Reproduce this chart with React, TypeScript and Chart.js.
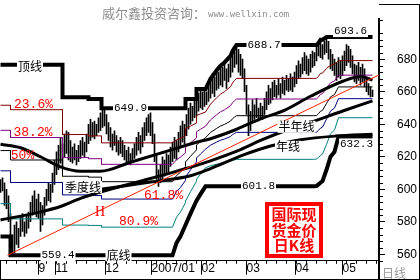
import React, { useEffect, useRef } from "react";
import { Chart, registerables } from "chart.js";

Chart.register(...registerables);

// ---------- data ----------
const highs = [
  606, 607, 604, 600, 596, 585, 572, 578, 580, 576,
  583, 585, 580, 584, 586, 592, 596, 599, 594, 597,
  592, 590, 595, 600, 604, 603, 610, 618, 623, 627,
  632, 628, 634, 636, 635, 630, 626, 628, 624, 627,
  630, 632, 629, 634, 640, 643, 641, 642, 640, 644,
  647, 649, 649.9, 646, 641, 638, 634, 636, 633, 630,
  632, 630, 627, 624, 626, 622, 625, 628, 632, 635,
  633, 638, 641, 644, 646, 647, 641, 634, 622, 612,
  615, 620, 618, 622, 621, 626, 629, 632, 630, 635,
  639, 642, 640, 646, 650, 653, 651, 655, 656, 659,
  661, 660, 662, 660, 664, 668, 671, 669, 673, 672,
  676, 675, 678, 674, 677, 682, 685, 687, 688.7, 686,
  683, 680, 674, 664, 652, 648, 655, 652, 656, 650,
  653, 651, 656, 660, 664, 662, 666, 667, 664, 668,
  665, 669, 667, 670, 668, 671, 669, 672, 676, 679,
  677, 681, 684, 682, 680, 683, 685, 684, 688, 690,
  692, 689, 691, 693.6, 691, 686, 683, 680, 678, 681,
  679, 682, 685, 689, 688, 686, 682, 677, 676, 678,
  675, 677, 674, 669, 665, 663, 661,
];
const lows = [
  598, 599, 590, 588, 580, 562, 559.4, 561, 566, 564,
  571, 574, 571, 573, 576, 580, 584, 586, 583, 582,
  574, 578, 584, 590, 593, 592, 598, 603, 609, 612,
  616, 614, 620, 622, 618, 617, 616, 618, 615, 617,
  619, 621, 620, 623, 628, 630, 632, 631, 633, 635,
  636, 638, 639, 634, 630, 626, 624, 627, 623, 621,
  622, 620, 618, 616, 617, 615, 617, 619, 621, 624,
  622, 626, 630, 633, 635, 633, 628, 617, 606, 601.8,
  604, 606, 608, 610, 609, 614, 617, 619, 618, 623,
  627, 629, 628, 633, 637, 640, 642, 644, 645, 648,
  650, 649, 651, 652, 654, 656, 659, 657, 661, 662,
  664, 663, 667, 662, 666, 669, 672, 675, 677, 672,
  670, 668, 660, 646, 633, 636, 641, 643, 644, 642,
  644, 643, 646, 649, 652, 653, 655, 657, 656, 658,
  656, 659, 658, 661, 660, 661, 660, 663, 665, 668,
  669, 671, 673, 671, 670, 672, 675, 676, 679, 682,
  681, 680, 683, 684, 680, 674, 673, 670, 667, 669,
  668, 670, 673, 676, 678, 675, 671, 666, 665, 667,
  664, 666, 663, 660, 658, 656.8, 657,
];

// 顶线 / 底线 breakpoints (trading-day index)
const levelDays = [
  0, 5, 5, 31, 31, 44, 44, 50.5, 50.5, 86, 88, 90, 92.5, 92.5, 95, 98, 98,
  100, 102.5, 105, 108, 110, 112, 115, 116, 117, 118, 156.5, 158, 159, 160,
  161, 163, 165, 167, 169, 186,
];
const topLine = [
  676.6, 676.6, 676.6, 676.6, 656.6, 656.6, 655.5, 655.5, 649.9, 649.9, 649.9,
  649.9, 649.9, 655.5, 655.5, 655.5, 661.6, 661.6, 661.6, 668, 673, 676, 678,
  682, 685, 687, 688.7, 688.7, 688.7, 690, 692, 692, 693.6, 693.6, 693.6,
  693.6, 693.6,
];
const bottomLine = [
  571, 571, 559.4, 559.4, 559.4, 559.4, 559.4, 559.4, 559.4, 559.4, 567, 571,
  578, 578, 585, 593, 593, 597, 601.8, 601.8, 601.8, 601.8, 601.8, 601.8,
  601.8, 601.8, 601.8, 601.8, 602, 603, 604, 605, 612, 620, 623, 632.3, 632.3,
];

const fibRatios = [0.236, 0.382, 0.5, 0.618, 0.809];

const quarterDays = [0, 10, 20, 30, 40, 50, 65, 80, 97.5, 105, 117.5, 130, 142.5, 155, 171.5, 180, 186];
const quarterMA = [627.7, 625.5, 620, 613.8, 611.1, 611.1, 616.6, 622.2, 628.8, 631.1, 636.6, 643.3, 648.9, 657.2, 666.6, 669.4, 667.2];

const halfDays = [0, 20, 30, 40, 50, 75, 100, 105, 120, 130, 145, 155, 171.5, 186];
const halfMA = [581.1, 586.1, 589.4, 594.4, 598.3, 606.6, 615.5, 617.5, 624.4, 630, 637.2, 641.1, 648.3, 654.4];

const yearDays = [50, 75, 95, 105, 121.5, 135, 150, 167.5, 186];
const yearMA = [600, 604.4, 608.3, 612.7, 621.1, 626.6, 630.5, 632.7, 633.8];

const trendDays = [3.5, 189.5];
const trendValues = [559.4, 670.5];

const monthTickDays = [19, 27.5, 52.5, 75.5, 100.5, 123, 147.5, 171];
const monthLabels = ["9", "11", "12", "2007/01", "02", "03", "04", "05"];
const priceTicks = [560, 580, 600, 620, 640, 660, 680];

// ---------- styles / annotation layout ----------
const fibColors = ["#800000", "#800080", "#000000", "#000080", "#008080"];
const CJK = "'Noto Sans CJK SC', sans-serif";
const MONO = "'Liberation Mono', monospace";

type Note = { text: string; day: number; value: number; color: string; font: string; bg: boolean };
const notes: Note[] = [
  { text: "顶线", day: 14.75, value: 675.4, color: "#000", font: `12px ${CJK}`, bg: true },
  { text: "649.9", day: 65, value: 649.9, color: "#000", font: `11px ${MONO}`, bg: true },
  { text: "688.7", day: 131.75, value: 688.7, color: "#000", font: `11px ${MONO}`, bg: true },
  { text: "693.6", day: 175, value: 697.3, color: "#000", font: `11px ${MONO}`, bg: true },
  { text: "601.8", day: 129, value: 601.8, color: "#000", font: `11px ${MONO}`, bg: true },
  { text: "632.3", day: 178, value: 627.5, color: "#000", font: `11px ${MONO}`, bg: true },
  { text: "559.4", day: 28.75, value: 559.4, color: "#000", font: `11px ${MONO}`, bg: true },
  { text: "底线", day: 59, value: 559.4, color: "#000", font: `12px ${CJK}`, bg: true },
  { text: "季度线", day: 41.25, value: 601.4, color: "#000", font: `12px ${CJK}`, bg: true },
  { text: "半年线", day: 148, value: 638.4, color: "#000", font: `12px ${CJK}`, bg: true },
  { text: "年线", day: 143.75, value: 626.1, color: "#000", font: `12px ${CJK}`, bg: true },
  { text: "23.6%", day: 16.5, value: 651.9, color: "#ff0000", font: `13px ${MONO}`, bg: false },
  { text: "38.2%", day: 16.25, value: 635.1, color: "#ff0000", font: `13px ${MONO}`, bg: false },
  { text: "50%", day: 11, value: 620.5, color: "#ff0000", font: `13px ${MONO}`, bg: false },
  { text: "61.8%", day: 81.5, value: 596.4, color: "#ff0000", font: `13px ${MONO}`, bg: false },
  { text: "80.9%", day: 69, value: 580.1, color: "#ff0000", font: `13px ${MONO}`, bg: false },
  { text: "H", day: 49.75, value: 585.7, color: "#ff0000", font: `14px 'Liberation Serif', serif`, bg: false },
];

const pts = (xs: number[], ys: number[]) => xs.map((x, i) => ({ x, y: ys[i] }));

const decorPlugin = {
  id: "decor",
  beforeDraw(chart: any) {
    const { ctx, width, height } = chart;
    ctx.save();
    ctx.fillStyle = "#fff";
    ctx.fillRect(0, 0, width, height);
    ctx.restore();
  },
  afterDraw(chart: any) {
    const ctx: CanvasRenderingContext2D = chart.ctx;
    const xs = chart.scales.x;
    const ys = chart.scales.y;
    const a = chart.chartArea;
    ctx.save();
    ctx.strokeStyle = "#000";
    ctx.lineWidth = 1;
    // minor price ticks
    for (let v = 556; v <= 704; v += 4) {
      if (v % 20 === 0) continue;
      const py = Math.round(ys.getPixelForValue(v)) + 0.5;
      ctx.beginPath();
      ctx.moveTo(a.right, py);
      ctx.lineTo(a.right + 4, py);
      ctx.stroke();
    }
    // minor day ticks
    for (let d = 2.5; d < 189; d += 5) {
      const px = Math.round(xs.getPixelForValue(d)) + 0.5;
      ctx.beginPath();
      ctx.moveTo(px, a.bottom);
      ctx.lineTo(px, a.bottom + 3);
      ctx.stroke();
    }
    // frame
    ctx.beginPath();
    ctx.moveTo(0, 279.5); ctx.lineTo(420, 279.5);
    ctx.moveTo(419.5, 4); ctx.lineTo(419.5, 280);
    ctx.moveTo(a.right, 4.5); ctx.lineTo(420, 4.5);
    ctx.moveTo(0.5, a.bottom); ctx.lineTo(0.5, 280);
    ctx.stroke();
    ctx.lineWidth = 2;
    ctx.beginPath();
    ctx.moveTo(a.right, a.bottom); ctx.lineTo(a.right, 280);
    ctx.stroke();

    // notes
    ctx.textAlign = "center";
    ctx.textBaseline = "middle";
    for (const n of notes) {
      const px = xs.getPixelForValue(n.day);
      const py = ys.getPixelForValue(n.value);
      ctx.font = n.font;
      if (n.bg) {
        const w = ctx.measureText(n.text).width;
        ctx.fillStyle = "#fff";
        ctx.fillRect(px - w / 2 - 1, py - 6, w + 2, 12);
      }
      ctx.fillStyle = n.color;
      ctx.fillText(n.text, px, py);
    }

    // watermark
    ctx.textAlign = "left";
    ctx.textBaseline = "alphabetic";
    ctx.fillStyle = "#8c8c8c";
    ctx.font = `13px ${CJK}`;
    ctx.fillText("威尔鑫投资咨询：", 102, 18);
    ctx.font = `9px 'DejaVu Sans Mono', monospace`;
    ctx.fillText("www.wellxin.com", 208, 17);

    // 日线
    ctx.font = `12px ${CJK}`;
    ctx.fillStyle = "#9a9a9a";
    ctx.fillText("日线", 382, 278);

    // stamp
    ctx.fillStyle = "#fff";
    ctx.fillRect(265, 202, 58, 56);
    ctx.strokeStyle = "#ff0000";
    ctx.lineWidth = 4;
    ctx.strokeRect(267, 204, 54, 52);
    ctx.fillStyle = "#ff0000";
    ctx.textAlign = "center";
    ctx.textBaseline = "middle";
    ctx.font = `bold 15px ${CJK}`;
    ctx.fillText("国际现", 294, 214.5);
    ctx.fillText("货金价", 294, 230);
    ctx.fillText("日K线", 294, 245.5);
    ctx.restore();
  },
};

export default function App() {
  const ref = useRef<HTMLCanvasElement | null>(null);
  useEffect(() => {
    if (!ref.current) return;
    const datasets: any[] = [
      {
        type: "bar",
        data: highs.map((h, i) => ({ x: i, y: [lows[i], h] })),
        backgroundColor: "#000",
        borderWidth: 0,
        barThickness: 1,
        order: 10,
      },
      ...fibRatios.map((r, k) => ({
        type: "line",
        data: levelDays.map((d, j) => ({ x: d, y: topLine[j] - r * (topLine[j] - bottomLine[j]) })),
        borderColor: fibColors[k],
        borderWidth: 1,
        pointRadius: 0,
        tension: 0,
        order: 6,
      })),
      { type: "line", data: pts(quarterDays, quarterMA), borderColor: "#000", borderWidth: 3, pointRadius: 0, cubicInterpolationMode: "monotone", order: 4 },
      { type: "line", data: pts(halfDays, halfMA), borderColor: "#000", borderWidth: 3, pointRadius: 0, cubicInterpolationMode: "monotone", order: 4 },
      { type: "line", data: pts(yearDays, yearMA), borderColor: "#000", borderWidth: 3, pointRadius: 0, cubicInterpolationMode: "monotone", order: 4 },
      { type: "line", data: pts(levelDays, topLine), borderColor: "#000", borderWidth: 4, pointRadius: 0, tension: 0, order: 2 },
      { type: "line", data: pts(levelDays, bottomLine), borderColor: "#000", borderWidth: 4, pointRadius: 0, tension: 0, order: 2 },
      { type: "line", data: pts(trendDays, trendValues), borderColor: "#ff2200", borderWidth: 1, pointRadius: 0, tension: 0, order: 1 },
    ];
    const chart = new Chart(ref.current, {
      type: "bar",
      data: { datasets },
      options: {
        animation: false,
        responsive: false,
        events: [],
        layout: { padding: 0 },
        plugins: { legend: { display: false }, tooltip: { enabled: false } },
        scales: {
          x: {
            type: "linear",
            min: -0.25,
            max: 189.25,
            offset: false,
            afterBuildTicks: (s: any) => {
              s.ticks = monthTickDays.map((v) => ({ value: v }));
            },
            afterFit: (s: any) => {
              s.height = 15;
            },
            grid: { drawOnChartArea: false, drawTicks: true, tickLength: 14, color: "#000", lineWidth: 1, offset: false },
            border: { display: true, color: "#000", width: 1 },
            ticks: {
              autoSkip: false,
              maxRotation: 0,
              minRotation: 0,
              align: "start",
              padding: -13,
              color: "#000",
              font: { family: "'Liberation Sans', Arial, sans-serif", size: 12 },
              callback: (_v: any, i: number) => monthLabels[i],
            },
          },
          y: {
            type: "linear",
            position: "right",
            min: 556,
            max: 704.6,
            afterBuildTicks: (s: any) => {
              s.ticks = priceTicks.map((v) => ({ value: v }));
            },
            afterFit: (s: any) => {
              s.width = 41;
            },
            grid: { drawOnChartArea: false, drawTicks: true, tickLength: 6, color: "#000", lineWidth: 1 },
            border: { display: true, color: "#000", width: 2 },
            ticks: {
              color: "#000",
              padding: 12,
              font: { family: "'Liberation Sans', Arial, sans-serif", size: 12 },
              callback: (v: any) => String(v),
            },
          },
        },
      } as any,
      plugins: [decorPlugin],
    });
    return () => chart.destroy();
  }, []);
  return (
    <div style={{ position: "fixed", left: 0, top: 0, width: 420, height: 280, background: "#fff" }}>
      <canvas ref={ref} width={420} height={280} style={{ display: "block" }} />
    </div>
  );
}
